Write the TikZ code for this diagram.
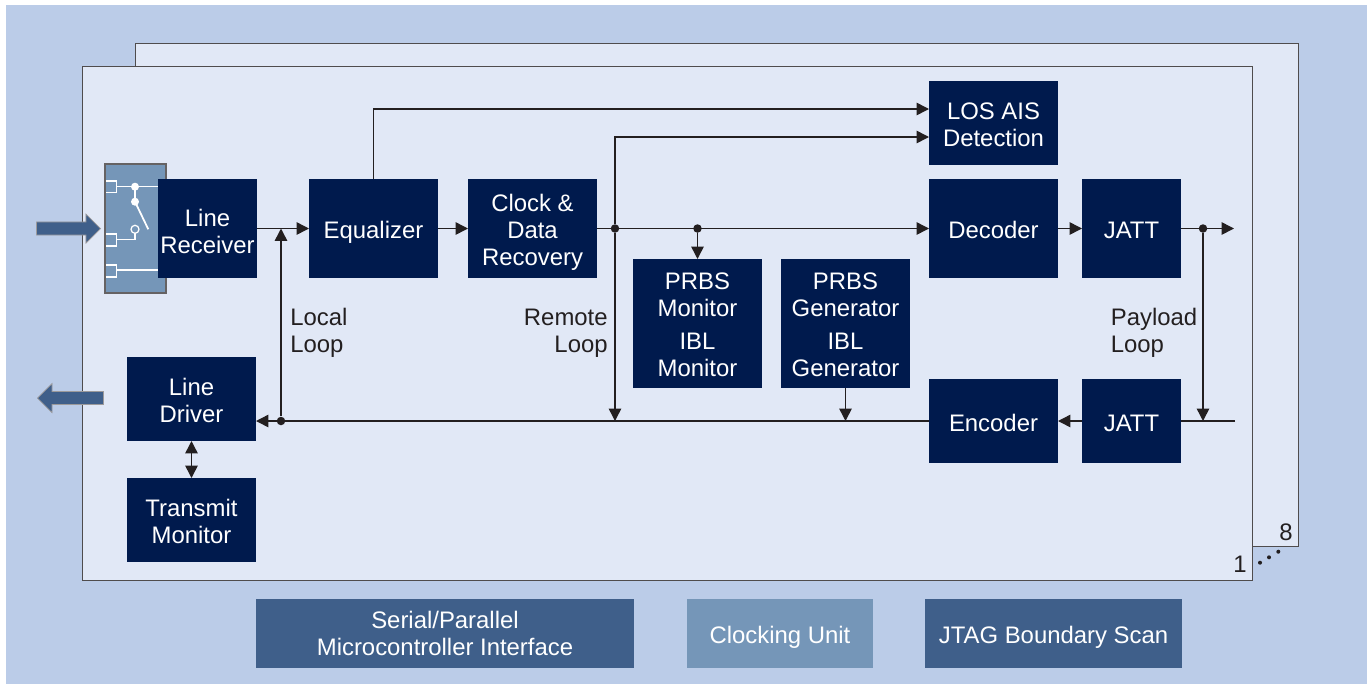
\documentclass[tikz,border=0pt]{standalone}
\usepackage{fontspec}
\setmainfont{Liberation Sans}
\usetikzlibrary{arrows.meta,shapes.arrows}
\definecolor{bandblue}{HTML}{BBCCE8}
\definecolor{cardblue}{HTML}{E1E8F6}
\definecolor{navyblock}{HTML}{001A4D}
\definecolor{slateblock}{HTML}{3F5F8A}
\definecolor{steelblock}{HTML}{7596B8}
\definecolor{inkline}{HTML}{231F20}
\def\px{0.02cm}
\tikzset{
	textdrop/.style={execute at begin node={\rule{0pt}{#1pt}}, execute at end node={\rule[-3pt]{0pt}{3pt}}},
	block/.style={fill=navyblock, text=white, align=center, inner sep=0pt, outer sep=0pt, font=\fontsize{13.6}{15.3}\selectfont, minimum width=129*\px, minimum height=84*\px, textdrop=14.4},
	tallblock/.style={block, minimum height=99*\px},
	jattblock/.style={block, minimum width=99*\px},
	busblock/.style={block, minimum height=69*\px, textdrop=12.6},
	card/.style={fill=cardblue, draw=inkline!80, line width=0.5pt},
	link/.style={draw=inkline, line width=0.85pt, -{Triangle[length=7pt,width=7pt]}},
	plainlink/.style={draw=inkline, line width=0.85pt},
	junction/.style={circle, fill=inkline, inner sep=0pt, minimum size=8.5*\px},
	looplabel/.style={text=inkline, inner sep=0pt, font=\fontsize{13.6}{15.3}\selectfont},
	portarrow/.style={single arrow, fill=slateblock, draw=inkline!45, line width=0.4pt, inner xsep=0pt, inner ysep=6.2*\px, minimum width=29*\px, minimum height=64*\px, single arrow head extend=8*\px, single arrow head indent=0pt, anchor=tip},
	wire/.style={draw=white, line width=0.7pt},
}
\begin{document}
\begin{tikzpicture}[x=\px, y=-\px]
	\useasboundingbox (0,0) rectangle (1372,684);
	%%%%% BACKGROUND %%%%%
	\fill[bandblue] (6,5) rectangle (1367,684);
	\draw[card] (135,43) rectangle (1298,546);
	\draw[card] (82,66) rectangle (1252,580);

	%%%%% SWITCH %%%%%
	\draw[fill=steelblock, draw=inkline!70, line width=0.6pt] (105,164) rectangle (166,293);
	\draw[wire] (106,181) -- (116.7,181) -- (116.7,192.7) -- (106,192.7);
	\draw[wire] (106,234) -- (116.7,234) -- (116.7,246) -- (106,246);
	\draw[wire] (106,265) -- (116.7,265) -- (116.7,277) -- (106,277);
	\draw[wire] (116.7,186.7) -- (158,186.7);
	\draw[wire] (116.7,270) -- (158,270);
	\draw[wire] (116.7,239.3) -- (135,239.3) -- (135,233.3);
	\draw[wire] (135,186.7) -- (135,201.7);
	\draw[wire, line width=1pt] (135,201.7) -- (148.3,229.3);
	\fill[white] (135,186.7) circle (4);
	\fill[white] (135,201.7) circle (4);
	\draw[wire] (135,229.3) circle (4);

	%%%%% BLOCKS %%%%%
	\node[block, textdrop=29.7] (losdet) at (993.5,123) {LOS AIS\\Detection};
	\node[tallblock, minimum width=99*\px, textdrop=31.4] (receiver) at (207.5,228.5) {Line\\Receiver};
	\node[tallblock] (equalizer) at (373.5,228.5) {Equalizer};
	\node[tallblock, textdrop=45] (clockrec) at (532.5,228.5) {Clock \&\\Data\\Recovery};
	\node[tallblock] (decoder) at (993.5,228.5) {Decoder};
	\node[tallblock, minimum width=99*\px] (jattup) at (1131.5,228.5) {JATT};
	\node[block, minimum height=129*\px, textdrop=63.1] (prbsmon) at (697.5,323.5) {PRBS\\Monitor\\[3.4pt]IBL\\Monitor};
	\node[block, minimum height=129*\px, textdrop=63.1] (prbsgen) at (845.5,323.5) {PRBS\\Generator\\[3.4pt]IBL\\Generator};
	\node[block, textdrop=29.7] (driver) at (191.5,399) {Line\\Driver};
	\node[block, textdrop=29.7] (txmon) at (191.5,520) {Transmit\\Monitor};
	\node[block] (encoder) at (993.5,421) {Encoder};
	\node[jattblock] (jattdown) at (1131.5,421) {JATT};

	\node[busblock, fill=slateblock, minimum width=378*\px, textdrop=28.2] (micro) at (445,633.5) {Serial/Parallel\\Microcontroller Interface};
	\node[busblock, fill=steelblock, minimum width=186*\px] (clocking) at (780,633.5) {Clocking Unit};
	\node[busblock, fill=slateblock, minimum width=257*\px] (jtag) at (1053.5,633.5) {JTAG Boundary Scan};

	%%%%% PORTS %%%%%
	\node[portarrow] (portin) at (101,228.5) {};
	\node[portarrow, shape border rotate=180, minimum height=66*\px] (portout) at (37,398) {};

	%%%%% JUNCTIONS %%%%%
	\node[junction] (jclock) at (615,228.5) {};
	\node[junction] (jmon) at (697.5,228.5) {};
	\node[junction] (jpay) at (1203,228.5) {};
	\node[junction] (jlocal) at (281,421) {};
	\coordinate (outup) at (1234,228.5);
	\coordinate (indown) at (1235,421);
	\coordinate (mergelocal) at (281,228.5);
	\coordinate (mergeremote) at (615,421);
	\coordinate (mergepay) at (1203,421);
	\coordinate (mergegen) at (845.5,421);
	\coordinate (losa) at (929,109);
	\coordinate (losb) at (929,137);

	%%%%% CONNECTORS %%%%%
	\draw[link] (receiver) -- (equalizer);
	\draw[link] (equalizer) -- (clockrec);
	\draw[link] (clockrec) -- (decoder);
	\draw[link] (decoder) -- (jattup);
	\draw[link] (jattup) -- (outup);
	\draw[link] (equalizer.north) |- (losa);
	\draw[link] (jclock) |- (losb);
	\draw[link] (jclock) -- (mergeremote);
	\draw[link] (jmon) -- (prbsmon);
	\draw[link] (prbsgen) -- (mergegen);
	\draw[link] (jpay) -- (mergepay);
	\draw[plainlink] (indown) -- (jattdown);
	\draw[link] (jattdown) -- (encoder);
	\draw[link] (encoder) -- (encoder.west -| driver.east);
	\draw[link] (jlocal) -- (mergelocal);
	\draw[link, {Triangle[length=7pt,width=7pt]}-{Triangle[length=7pt,width=7pt]}] (driver) -- (txmon);

	%%%%% LABELS %%%%%
	\node[looplabel, align=left, anchor=west] (locallabel) at (290,333) {Local\\Loop};
	\node[looplabel, align=right, anchor=east] (remotelabel) at (608,333) {Remote\\Loop};
	\node[looplabel, align=left, anchor=west] (paylabel) at (1110.5,333) {Payload\\Loop};
	\node[looplabel] (cardone) at (1240,564) {1};
	\node[looplabel] (cardeight) at (1286,532) {8};
	\fill[inkline] (1260,562.7) circle (2) (1269,557.3) circle (2) (1278.3,551.7) circle (2);
\end{tikzpicture}
\end{document}
